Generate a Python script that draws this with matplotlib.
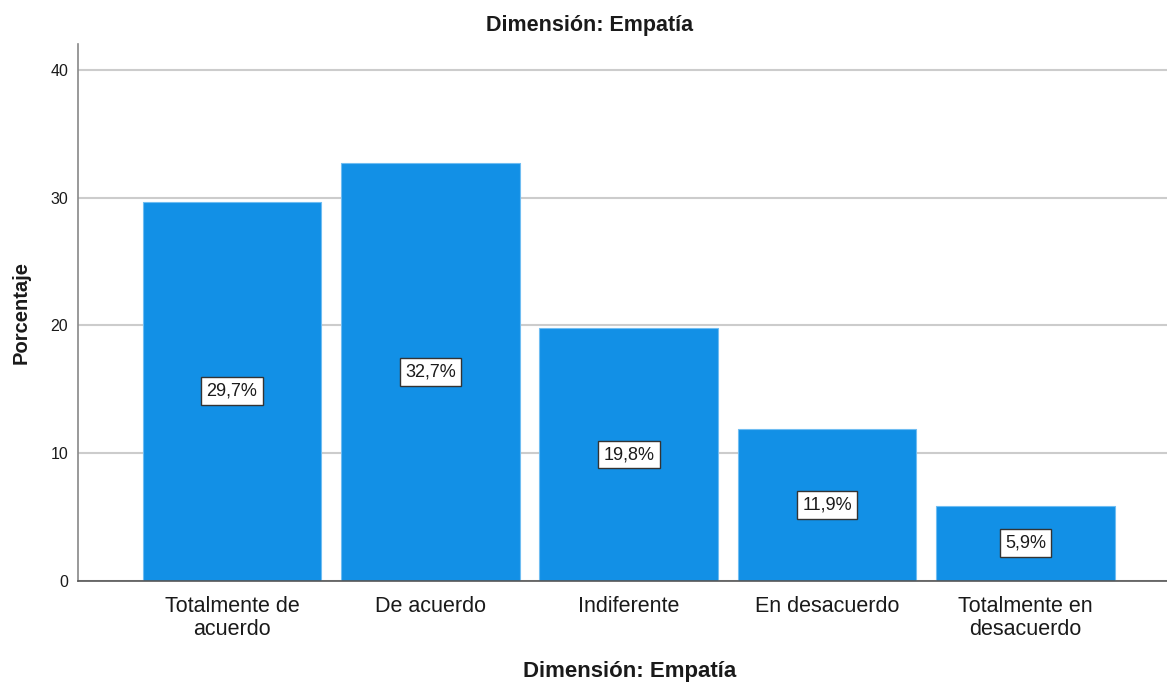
import matplotlib
matplotlib.use("Agg")
import matplotlib.pyplot as plt

categories = ["Totalmente de\nacuerdo", "De acuerdo", "Indiferente", "En desacuerdo", "Totalmente en\ndesacuerdo"]
values = [29.7, 32.7, 19.8, 11.9, 5.9]
labels = ["29,7%", "32,7%", "19,8%", "11,9%", "5,9%"]
yticks = [0, 10, 20, 30, 40]

plt.rcParams['font.family'] = ['Liberation Sans', 'DejaVu Sans']

fig = plt.figure(figsize=(11.67, 6.83), dpi=100)
ax = fig.add_axes([78/1167, (683-581)/683, 1 - 78/1167, (581-44)/683])

x = list(range(len(categories)))
ax.set_axisbelow(True)
ax.yaxis.grid(True, color='#cccccc', linewidth=1.5)
ax.bar(x, values, width=0.9, color='#1290E6', edgecolor='#6fbdf2', linewidth=0.8, zorder=2)

for xi, v, lab in zip(x, values, labels):
    ax.text(xi, v / 2, lab, ha='center', va='center', fontsize=13, color='#1a1a1a', zorder=3,
            bbox=dict(boxstyle='square,pad=0.3', facecolor='white', edgecolor='#333333', linewidth=1))

ax.set_xlim(-0.776, 4.713)
ax.set_ylim(0, 42.03)
ax.set_yticks(yticks)
ax.set_yticklabels([str(t) for t in yticks], fontsize=11.5, color='#1a1a1a')
ax.set_xticks(x)
ax.set_xticklabels(categories, fontsize=15.5, color='#1a1a1a', linespacing=1.12)
ax.tick_params(axis='both', length=0)
ax.tick_params(axis='y', pad=7)
ax.tick_params(axis='x', pad=11)

for s in ['top', 'right']:
    ax.spines[s].set_visible(False)
ax.spines['left'].set_color('#888888')
ax.spines['left'].set_linewidth(1.2)
ax.spines['bottom'].set_color('#555555')
ax.spines['bottom'].set_linewidth(1.2)

ax.set_ylabel("Porcentaje", fontsize=14.5, fontweight='bold', color='#1a1a1a', labelpad=14)
fig.text(590/1167, 1 - 26/683, "Dimensión: Empatía", ha='center', va='center', fontsize=15.5, fontweight='bold', color='#1a1a1a')
fig.text(630/1167, 1 - 672/683, "Dimensión: Empatía", ha='center', va='center', fontsize=16, fontweight='bold', color='#1a1a1a')

fig.savefig("out.png", dpi=100)
